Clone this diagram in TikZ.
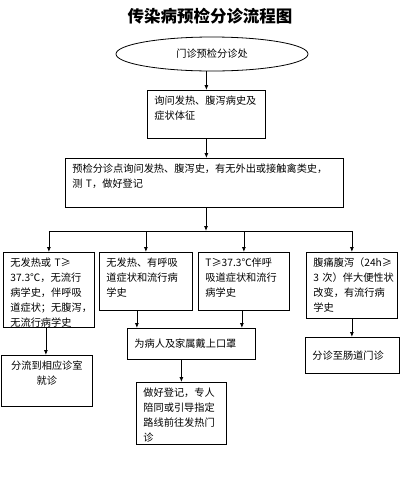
\documentclass[tikz,border=0pt]{standalone}
\usepackage{fontspec}
\setmainfont{Noto Sans CJK SC}
\usetikzlibrary{shapes.geometric,arrows.meta}

\begin{document}
\begin{tikzpicture}[x=1pt,y=-1pt,
    box/.style={draw=black,line width=0.8pt,anchor=north west,inner xsep=7pt,inner ysep=5pt,
      align=left,text height=9pt,font=\fontsize{10.2}{15}\selectfont},
    arr/.style={-{Latex[length=5pt,width=4pt]},line width=0.8pt}]
    \useasboundingbox (0,0) rectangle (405,480);

    \node[font=\fontsize{16.5}{18}\bfseries\selectfont] (title) at (210,16) {传染病预检分诊流程图};
    \node[shape=ellipse,draw=black,line width=0.8pt,minimum width=192pt,minimum height=34pt,
      inner sep=0pt,font=\fontsize{10.2}{15}\selectfont] (desk) at (212,54) {门诊预检分诊处};
    \node[box,text width=104pt,text depth=29pt] (ask) at (147,90) {询问发热、腹泻病史及\\症状体征};
    \node[box,text width=264pt,text depth=30pt] (screen) at (65,158)
      {预检分诊点询问发热、腹泻史，有无外出或接触禽类史，\\测~T，做好登记};

    \node[box,text width=77pt,text depth=56pt] (noA) at (3,252)
      {无发热或~T≥\\37.3℃，无流行\\病学史，伴呼吸\\道症状；无腹泻，\\无流行病学史};
    \node[box,text width=79pt,text depth=39pt] (resp) at (99,252)
      {无发热、有呼吸\\道症状和流行病\\学史};
    \node[box,text width=77pt,text depth=39pt] (fever) at (198,252)
      {T≥37.3℃伴呼\\吸道症状和流行\\病学史};
    \node[box,text width=77pt,text depth=47pt] (gut) at (306,252)
      {腹痛腹泻（24h≥\\3~次）伴大便性状\\改变，有流行病\\学史};

    \node[box,text width=77pt,text depth=32pt,align=center] (room) at (1,355) {分流到相应诊室\\就诊};
    \node[box,text width=114pt,minimum height=31pt] (mask) at (127,328) {为病人及家属戴上口罩};
    \node[box,text width=76pt,text depth=43pt] (guide) at (136,382)
      {做好登记，专人\\陪同或引导指定\\路线前往发热门\\诊};
    \node[box,text width=80pt,minimum height=36pt] (gutclinic) at (305,337) {分诊至肠道门诊};

    \coordinate (split) at (206,231);
    \coordinate (noAout) at ([xshift=-3pt]noA.south);
    \coordinate (respout) at ([xshift=-9pt]resp.south);
    \coordinate (feverout) at ([xshift=-2pt]fever.south);

    \draw[arr] (ask.north |- desk.south) -- (ask.north);
    \draw[arr] (ask.south) -- (ask.south |- screen.north);
    \draw[arr] (split |- screen.south) -- (split);
    \draw[line width=0.8pt] (noA.north |- split) -- (gut.north |- split);
    \foreach \n in {noA,resp,fever,gut}
      \draw[arr] (\n.north |- split) -- (\n.north);

    \draw[arr] (noAout) -- (noAout |- room.north);
    \draw[arr] (respout) -- (respout |- mask.north);
    \draw[arr] (feverout) -- (feverout |- mask.north);
    \draw[arr] (guide.north |- mask.south) -- (guide.north);
    \draw[arr] (gut.south) -- (gut.south |- gutclinic.north);
\end{tikzpicture}
\end{document}
